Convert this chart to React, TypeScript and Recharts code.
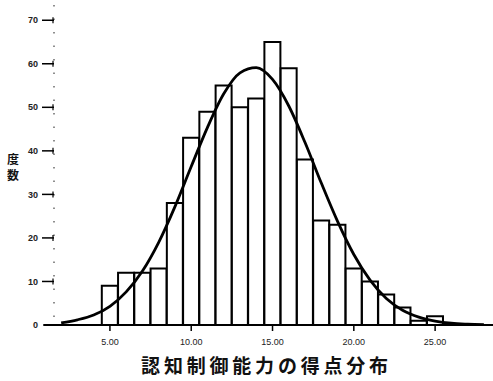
import { ComposedChart, Bar, Line, XAxis, YAxis, ReferenceLine } from 'recharts';

// histogram bins (centre of each 1-point bin) and their frequencies
const binCenters = [5, 6, 7, 8, 9, 10, 11, 12, 13, 14, 15, 16, 17, 18, 19, 20, 21, 22, 23, 24, 25];
const counts = [9, 12, 12, 13, 28, 43, 49, 55, 50, 52, 65, 59, 38, 24, 23, 13, 10, 7, 4, 1, 2];

// fitted normal curve
const curveScores = [2, 3, 4, 5, 6, 7, 8, 9, 10, 11, 12, 13, 14, 15, 16, 17, 18, 19, 20, 21, 22, 23, 24, 25, 26, 27, 28];
const curveValues = [0.5, 1.2, 2.3, 4.3, 7.6, 12.4, 19.0, 27.2, 36.4, 45.4, 53.1, 57.9, 59.1, 56.4, 50.3, 41.9, 32.6, 23.8, 16.2, 10.3, 6.1, 3.4, 1.8, 0.9, 0.4, 0.2, 0.1];

const xTicks = [5, 10, 15, 20, 25];
const yTicks = [0, 10, 20, 30, 40, 50, 60, 70];

const chartData = curveScores.map((s, i) => {
  const b = binCenters.indexOf(s);
  return { score: s, count: b >= 0 ? counts[b] : null, curve: curveValues[i] };
});

// y tick: label, short dash and a little bar on the axis
const YTick = ({ x, y, payload }: any) => (
  <g>
    <text x={x - 16} y={y} dy="0.35em" textAnchor="end" fontSize={9} fontWeight="bold" fill="#222"
      fontFamily="'Liberation Sans', Arial, sans-serif">
      {payload.value}
    </text>
    {payload.value !== 0 && <line x1={x - 12} y1={y} x2={x} y2={y} stroke="#000" strokeWidth={1.5} />}
    {payload.value !== 0 && <line x1={x - 1} y1={y - 3} x2={x - 1} y2={y + 3} stroke="#000" strokeWidth={1.2} />}
  </g>
);

const YLabel = () => (
  <text x={13} y={164} textAnchor="middle" fontSize={12} fontWeight="bold" fill="#111"
    fontFamily="'Noto Sans CJK JP', sans-serif">
    <tspan x={13} y={164}>度</tspan>
    <tspan x={13} y={180}>数</tspan>
  </text>
);

const Title = ({ viewBox }: any) => (
  <text x={viewBox.x + viewBox.width / 2 - 7} y={373} textAnchor="middle" fontSize={19} fontWeight="bold"
    letterSpacing={3.8} fill="#111" fontFamily="'Noto Sans CJK JP', sans-serif">
    認知制御能力の得点分布
  </text>
);

export default function App() {
  return (
    <div style={{ position: 'absolute', left: 0, top: 0, background: '#fff' }}>
      <ComposedChart width={493} height={381} data={chartData} barCategoryGap={0}
        margin={{ top: 5, right: 0, bottom: 0, left: 0 }}>
        <XAxis dataKey="score" type="number" domain={[1.56, 28.56]} allowDataOverflow ticks={xTicks}
          tickFormatter={(v: number) => v.toFixed(2)} height={56} tickSize={6} tickMargin={8}
          axisLine={{ stroke: '#000', strokeWidth: 2 }} tickLine={{ stroke: '#000', strokeWidth: 1.5 }}
          tick={{ fontSize: 9, fill: '#222', fontFamily: "'Liberation Sans', Arial, sans-serif" }}
          label={<Title />} />
        <YAxis type="number" domain={[0, 73.5]} allowDataOverflow ticks={yTicks} width={54}
          tickSize={0} tickMargin={0} tickLine={false}
          axisLine={{ stroke: '#444', strokeWidth: 1.2, strokeDasharray: '1.5 12' }}
          tick={<YTick />} label={<YLabel />} />
        <ReferenceLine segment={[{ x: 0.9, y: 0 }, { x: 28.56, y: 0 }]} ifOverflow="visible"
          stroke="#000" strokeWidth={2} />
        <Bar dataKey="count" fill="#fff" stroke="#000" strokeWidth={2} isAnimationActive={false} />
        <Line dataKey="curve" type="monotone" stroke="#000" strokeWidth={2.8} dot={false}
          isAnimationActive={false} />
      </ComposedChart>
    </div>
  );
}
